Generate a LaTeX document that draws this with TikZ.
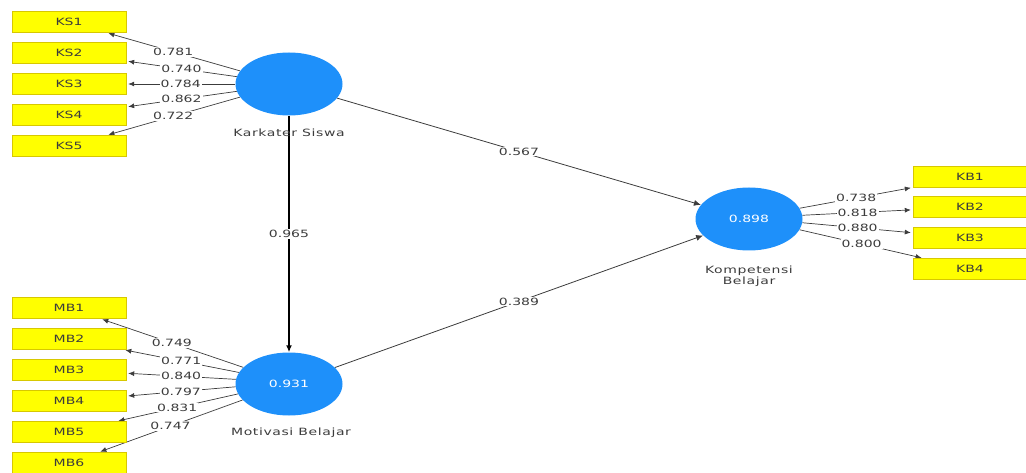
\documentclass[tikz,border=0pt]{standalone}
\usepackage{fontspec}
\setmainfont{DejaVu Sans}[FakeStretch=1.4]
\usetikzlibrary{arrows.meta}
\usetikzlibrary{shapes.geometric}
\pgfdeclarelayer{edgelayer}
\pgfdeclarelayer{nodelayer}
\pgfsetlayers{edgelayer,nodelayer,main}
\definecolor{plsblue}{RGB}{30,144,250}
\definecolor{plsyellow}{RGB}{255,255,0}
\definecolor{plsborder}{RGB}{215,200,0}
\definecolor{plstext}{RGB}{60,60,60}
\tikzstyle{indicator}=[rectangle,draw=plsborder,fill=plsyellow,minimum width=114pt,minimum height=21pt,inner sep=0pt,font=\fontsize{10}{11}\selectfont,text=plstext]
\tikzstyle{construct}=[ellipse,fill=plsblue,minimum width=107pt,minimum height=63pt,inner sep=0pt,font=\fontsize{10}{11}\selectfont,text=white]
\tikzstyle{caption}=[align=center,font=\addfontfeatures{LetterSpace=6}\fontsize{10}{11.5}\selectfont,text=plstext]
\tikzstyle{coef}=[fill=white,inner sep=1pt,font=\fontsize{10}{11}\selectfont,text=plstext]
\tikzstyle{loading}=[-{Latex[length=6pt,width=5pt]},draw=plstext,line width=0.7pt,shorten >=2pt]
\tikzstyle{structural}=[-{Latex[length=7pt,width=6pt]},draw=plstext,line width=0.8pt]
\tikzstyle{strong}=[-{Latex[length=7pt,width=6pt]},draw=black,line width=1.5pt]

\begin{document}
\begin{tikzpicture}[x=1pt,y=-1pt]
	\useasboundingbox (0,0) rectangle (1026,473);
	\begin{pgfonlayer}{nodelayer}
		\node [style=indicator] (KS1) at (69, 22) {KS1};
		\node [style=indicator] (KS2) at (69, 53) {KS2};
		\node [style=indicator] (KS3) at (69, 84) {KS3};
		\node [style=indicator] (KS4) at (69, 115) {KS4};
		\node [style=indicator] (KS5) at (69, 146) {KS5};
		\node [style=indicator] (MB1) at (69, 308) {MB1};
		\node [style=indicator] (MB2) at (69, 339) {MB2};
		\node [style=indicator] (MB3) at (69, 370) {MB3};
		\node [style=indicator] (MB4) at (69, 401) {MB4};
		\node [style=indicator] (MB5) at (69, 432) {MB5};
		\node [style=indicator] (MB6) at (69, 463) {MB6};
		\node [style=indicator] (KB1) at (970, 177) {KB1};
		\node [style=indicator] (KB2) at (970, 207) {KB2};
		\node [style=indicator] (KB3) at (970, 238) {KB3};
		\node [style=indicator] (KB4) at (970, 269) {KB4};
		\node [style=construct] (KS) at (289, 84) {};
		\node [style=construct] (MB) at (289, 384) {0.931};
		\node [style=construct] (KB) at (749, 219) {0.898};
		\node [style=caption] (KSname) at (289, 133) {Karkater Siswa};
		\node [style=caption] (MBname) at (291, 433) {Motivasi Belajar};
		\node [style=caption] (KBname) at (749, 276) {Kompetensi\\Belajar};
	\end{pgfonlayer}
	\begin{pgfonlayer}{edgelayer}
		\draw [style=loading] (KS.165) to node [style=coef] {0.781} (KS1);
		\draw [style=loading] (KS.172) to node [style=coef] {0.740} (KS2);
		\draw [style=loading] (KS.180) to node [style=coef] {0.784} (KS3);
		\draw [style=loading] (KS.188) to node [style=coef] {0.862} (KS4);
		\draw [style=loading] (KS.195) to node [style=coef] {0.722} (KS5);
		\draw [style=loading] (MB.160) to node [style=coef] {0.749} (MB1);
		\draw [style=loading] (MB.167) to node [style=coef] {0.771} (MB2);
		\draw [style=loading] (MB.175) to node [style=coef] {0.840} (MB3);
		\draw [style=loading] (MB.183) to node [style=coef] {0.797} (MB4);
		\draw [style=loading] (MB.191) to node [style=coef] {0.831} (MB5);
		\draw [style=loading] (MB.199) to node [style=coef] {0.747} (MB6);
		\draw [style=loading] (KB.12) to node [style=coef] {0.738} (KB1);
		\draw [style=loading] (KB.4) to node [style=coef] {0.818} (KB2);
		\draw [style=loading] (KB.-4) to node [style=coef] {0.880} (KB3);
		\draw [style=loading] (KB.-12) to node [style=coef] {0.800} (KB4);
		\draw [style=strong] (KS) to node [style=coef] {0.965} (MB);
		\draw [style=structural] (KS) to node [style=coef] {0.567} (KB);
		\draw [style=structural] (MB) to node [style=coef] {0.389} (KB);
	\end{pgfonlayer}
\end{tikzpicture}
\end{document}
